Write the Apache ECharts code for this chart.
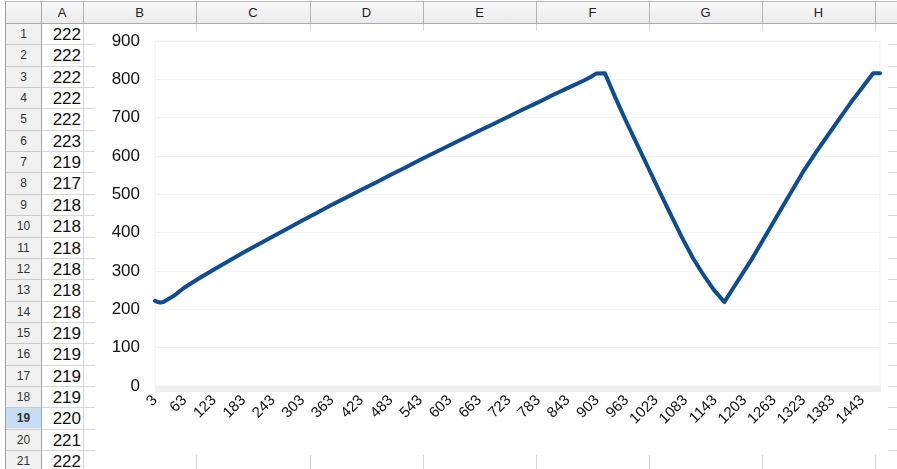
<!DOCTYPE html>
<html><head><meta charset="utf-8">
<script src="https://cdn.jsdelivr.net/npm/echarts@6/dist/echarts.min.js"></script>
<style>
html,body{margin:0;padding:0;}
body{width:897px;height:469px;overflow:hidden;background:#fff;position:relative;font-family:"Liberation Sans",Arial,sans-serif;}
.abs{position:absolute;}
#chart{position:absolute;left:0;top:0;width:897px;height:469px;z-index:5;}
</style>
</head><body>
<div id="sheet"></div>
<div id="chart"></div>
<script>
// ---- spreadsheet content ----
var colLetters = ['A','B','C','D','E','F','G','H',''];
var colEdges = [41, 83, 196, 310, 423, 536, 649, 762, 875, 988];
var colAValues = [222,222,222,222,222,223,219,217,218,218,218,218,218,218,219,219,219,219,220,221,222];
var selectedRow = 19;

// ---- chart data ----
var catStart = 3, catEnd = 1479;
var pointCats = [3,4,5,6,7,8,9,10,11,12,13,14,15,16,17,18,19,20,21,22,23,
  40,63,93,123,153,183,213,243,273,303,333,363,393,423,453,483,513,543,573,603,633,663,693,723,753,783,813,843,873,890,901,
  919,940,963,985,1007,1030,1053,1076,1099,1120,1140,1162,
  1180,1200,1217,1240,1270,1300,1325,1350,1375,1398,1420,1445,1465,1479];
var pointValues = [222,222,222,222,222,223,219,217,218,218,218,218,218,218,219,219,219,219,220,221,222,
  234,257,281,304,326,348,369,390,411,432,452,473,492,512,531,551,570,590,609,628,647,666,684,703,722,740,759,777,795,806,815,
  816,753,688,629,570,508,447,387,332,289,252,219,
  255,295,329,379,445,510,564,612,658,700,740,782,816,816];

var yTicks = {min:0, max:900, step:100};
var labelEvery = 60;

// ---- build sheet ----
var sheet = document.getElementById('sheet');
function box(l,t,w,h,css){var d=document.createElement('div');d.className='abs';d.style.left=l+'px';d.style.top=t+'px';d.style.width=w+'px';d.style.height=h+'px';if(css)d.style.cssText+=css;sheet.appendChild(d);return d;}
function txt(s,l,t,w,h,css){var d=box(l,t,w,h,css);d.textContent=s;return d;}
var rowH = 21.35, headBottom = 23;
function rowTop(i){return headBottom + i*rowH;}
box(5,1,892,22,'background:linear-gradient(#f7f7f7,#ebebeb);border-top:1px solid #b9b9b9;');
box(5,23,892,1,'background:#a9a9a9;');
box(5,1,1,468,'background:#a0a0a0;');
box(6,24,35,445,'background:#f1f1f1;');
box(6,Math.round(rowTop(selectedRow-1))+1,35,Math.round(rowH)-1,'background:#c7ddf6;');
for(var i=1;i<=21;i++){
  var y=Math.round(rowTop(i));
  box(6,y,35,1,'background:#c9c9c9;');
  box(41,y,856,1,'background:#d8d8d8;');
}
box(41,1,1,468,'background:#a5a5a5;');
for(var c=1;c<colEdges.length-1;c++){
  box(colEdges[c],2,1,21,'background:#b3b3b3;');
  box(colEdges[c],24,1,445,'background:#d6d6d6;');
}
for(var c=0;c<colLetters.length;c++){
  var l=colEdges[c], w=colEdges[c+1]-colEdges[c];
  txt(colLetters[c],l,3,w,20,'text-align:center;line-height:20px;font-size:13px;color:#222;');
}
for(var r=1;r<=21;r++){
  var t=rowTop(r-1);
  txt(String(r),6,t+1,35,rowH,'text-align:center;line-height:'+rowH+'px;font-size:12px;color:#333;'+(r===selectedRow?'font-weight:bold;':''));
  txt(String(colAValues[r-1]),41,t+1,40,rowH,'text-align:right;line-height:'+rowH+'px;font-size:17px;color:#111;');
}
box(95,31,793,424,'background:#fff;');

// ---- chart ----
var cats = [];
for (var k = catStart; k <= catEnd; k++) cats.push(String(k));
var seriesData = pointCats.map(function(c,i){return [String(c), pointValues[i]];});

var chart = echarts.init(document.getElementById('chart'), null, {renderer:'canvas'});
chart.setOption({
  animation:false,
  backgroundColor:'transparent',
  grid:{left:155,right:17,top:41,bottom:83,show:true,borderColor:'#f1f1f1',borderWidth:1,backgroundColor:'transparent'},
  xAxis:{
    type:'category', data:cats, boundaryGap:false,
    axisLine:{show:false},
    axisTick:{show:true, interval:0, length:6, lineStyle:{color:'#efefef', width:1}},
    axisLabel:{interval:labelEvery-1, rotate:45, fontSize:15, color:'#111', margin:12, fontFamily:'Liberation Sans'},
    splitLine:{show:false}
  },
  yAxis:{
    type:'value', min:yTicks.min, max:yTicks.max, interval:yTicks.step,
    axisLine:{show:false}, axisTick:{show:false},
    axisLabel:{fontSize:17, color:'#111', margin:15, fontFamily:'Liberation Sans'},
    splitLine:{lineStyle:{color:'#f3f3f3', width:1}}
  },
  series:[{
    type:'line', data:seriesData, showSymbol:false, smooth:false,
    lineStyle:{color:'#0f4c92', width:4, cap:'round', join:'round'},
    itemStyle:{color:'#0f4c92'}
  }]
});
</script>
</body></html>
